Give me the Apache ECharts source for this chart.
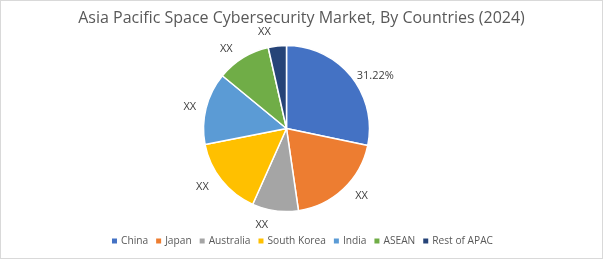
<!DOCTYPE html>
<html>
<head>
<meta charset="utf-8">
<script src="https://cdn.jsdelivr.net/npm/echarts@6/dist/echarts.min.js"></script>
<style>
html,body{margin:0;padding:0;background:#fff;}
#chart{width:603px;height:259px;box-sizing:border-box;border:1px solid #d9d9d9;}
</style>
</head>
<body>
<div id="chart"></div>
<script>
const categories = ["China", "Japan", "Australia", "South Korea", "India", "ASEAN", "Rest of APAC"];
const values = [31.22, 21.4, 9.9, 16.8, 15.5, 11.6, 3.9];
const labelTexts = ["31.22%", "XX", "XX", "XX", "XX", "XX", "XX"];
const colors = ["#4472C4", "#ED7D31", "#A5A5A5", "#FFC000", "#5B9BD5", "#70AD47", "#264478"];
const titleText = "Asia Pacific Space Cybersecurity Market, By Countries (2024)";
const labelLengths = [1, 10, 14, 10, 5, 10, 14];

const chart = echarts.init(document.getElementById('chart'), null, {renderer: 'canvas'});
chart.setOption({
  animation: false,
  backgroundColor: 'transparent',
  color: colors,
  title: {
    text: titleText,
    left: 'center',
    top: 4,
    textStyle: {fontFamily: 'Open Sans', fontSize: 16, fontWeight: 'normal', color: '#595959'}
  },
  legend: {
    bottom: 7,
    left: 'center',
    itemWidth: 7,
    itemHeight: 7,
    itemGap: 6,
    icon: 'rect',
    textStyle: {fontFamily: 'Open Sans', fontSize: 10.2, color: '#595959', padding: [0, 0, 0, -2]},
    data: categories
  },
  series: [{
    type: 'pie',
    center: [285.5, 127.5],
    radius: 83,
    startAngle: 90,
    clockwise: true,
    itemStyle: {borderColor: '#fff', borderWidth: 1.5},
    label: {
      show: true,
      position: 'outside',
      formatter: (p) => labelTexts[p.dataIndex],
      fontFamily: 'Open Sans',
      fontSize: 11,
      color: '#404040'
    },
    labelLine: {show: false, length: 6, length2: 0},
    emphasis: {disabled: true},
    data: categories.map((c, i) => ({name: c, value: values[i], labelLine: {length: labelLengths[i], length2: 0}}))
  }]
});
</script>
</body>
</html>
